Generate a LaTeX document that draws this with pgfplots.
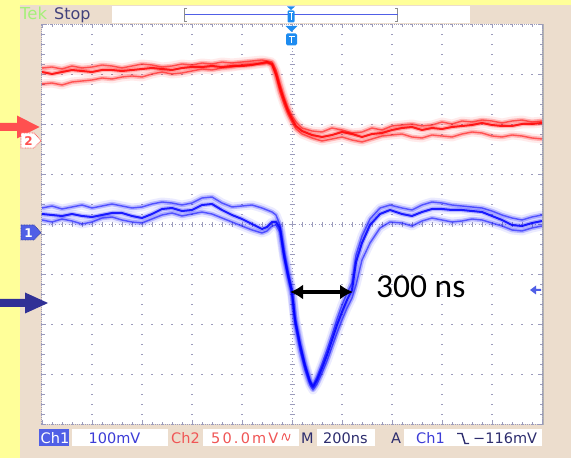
\documentclass[border=0pt]{standalone}
\usepackage{fontspec}
\setmainfont{DejaVu Sans}
\newfontfamily\notefont{Carlito}
\usepackage{pgfplots}
\usepackage{pgfplotstable}
\pgfplotsset{compat=1.18}
\usetikzlibrary{arrows.meta}

\definecolor{scopeyellow}{RGB}{255,255,153}
\definecolor{bezel}{RGB}{236,221,205}
\definecolor{gratcol}{RGB}{155,155,188}
\definecolor{chone}{RGB}{0,0,255}
\definecolor{chtwo}{RGB}{255,0,0}
\definecolor{labblue}{RGB}{60,60,215}
\definecolor{labred}{RGB}{240,85,85}
\definecolor{labnavy}{RGB}{45,45,110}
\definecolor{trigblue}{RGB}{30,140,240}
\definecolor{markblue}{RGB}{80,95,230}
\definecolor{arrowred}{RGB}{255,80,80}
\definecolor{arrownavy}{RGB}{48,48,150}
\definecolor{tekgreen}{RGB}{165,240,120}

% Ch2 acquisitions (time in ns, level in screen divisions)
\pgfplotstableread{
t a b c
-1000 3.05 2.81 3.13
-960 3.01 2.83 3.15
-920 3.05 2.79 3.11
-880 3.09 2.85 3.17
-840 3.07 2.87 3.13
-800 3.05 2.89 3.15
-760 3.09 2.93 3.19
-720 3.09 2.91 3.17
-680 3.07 2.95 3.13
-640 3.09 2.97 3.17
-600 3.11 2.95 3.21
-560 3.13 3.01 3.19
-520 3.11 3.05 3.15
-480 3.09 3.01 3.17
-440 3.13 3.03 3.21
-400 3.15 3.07 3.19
-360 3.15 3.11 3.23
-320 3.17 3.09 3.21
-280 3.15 3.13 3.25
-240 3.17 3.15 3.23
-200 3.17 3.19 3.25
-160 3.19 3.21 3.27
-120 3.23 3.21 3.29
-100 3.25 3.23 3.27
-80 3.21 3.19 3.25
-64 3.01 2.97 3.09
-48 2.73 2.65 2.81
-32 2.49 2.41 2.55
-16 2.27 2.21 2.33
0 2.11 2.05 2.17
16 1.97 1.91 2.05
40 1.87 1.81 1.93
80 1.79 1.73 1.87
120 1.75 1.67 1.85
160 1.79 1.71 1.93
200 1.85 1.75 1.89
240 1.81 1.69 1.83
280 1.75 1.65 1.85
320 1.81 1.71 1.93
360 1.83 1.77 1.89
400 1.89 1.79 1.97
440 1.93 1.81 1.99
480 1.95 1.75 2.01
520 1.89 1.73 1.97
560 1.93 1.79 1.99
600 1.91 1.77 2.05
640 1.95 1.75 2.01
680 1.97 1.81 2.07
720 1.99 1.85 2.05
760 2.03 1.83 2.09
800 1.99 1.77 2.07
840 1.97 1.75 2.03
880 1.97 1.79 2.07
920 2.01 1.77 2.09
960 2.01 1.73 2.05
1000 2.03 1.71 2.07
}\chtwotab

% Ch1 acquisitions (time in ns, level in screen divisions)
\pgfplotstableread{
t a b c
-1000 0.21 0.09 0.33
-960 0.19 0.05 0.37
-920 0.17 0.11 0.31
-880 0.21 0.07 0.35
-840 0.17 0.01 0.39
-800 0.15 0.05 0.33
-760 0.19 0.13 0.37
-720 0.23 0.15 0.41
-680 0.23 0.09 0.37
-640 0.17 0.05 0.33
-600 0.13 0.03 0.35
-560 0.21 0.11 0.41
-520 0.31 0.19 0.45
-480 0.33 0.23 0.43
-440 0.27 0.17 0.39
-400 0.29 0.21 0.43
-360 0.39 0.25 0.53
-320 0.41 0.21 0.55
-280 0.29 0.13 0.43
-240 0.19 0.05 0.35
-200 0.11 -0.03 0.37
-160 0.01 -0.11 0.39
-120 -0.09 -0.17 0.33
-100 -0.05 -0.13 0.29
-80 0.05 -0.03 0.25
-64 0.05 -0.01 0.19
-48 -0.07 -0.15 -0.01
-32 -0.61 -0.67 -0.51
-16 -1.01 -1.07 -0.93
0 -1.35 -1.43 -1.29
12 -1.91 -1.99 -1.83
32 -2.41 -2.51 -2.35
52 -2.83 -2.91 -2.77
72 -3.15 -3.21 -3.11
84 -3.25 -3.31 -3.21
100 -3.11 -3.19 -3.05
120 -2.87 -2.97 -2.79
140 -2.61 -2.73 -2.51
160 -2.31 -2.45 -2.21
180 -2.01 -2.17 -1.89
200 -1.75 -1.91 -1.61
220 -1.51 -1.67 -1.37
240 -1.31 -1.47 -1.17
256 -0.75 -1.21 -0.61
280 -0.37 -0.71 -0.23
312 -0.01 -0.37 0.11
352 0.21 -0.07 0.33
392 0.29 0.05 0.39
440 0.21 0.03 0.33
480 0.17 -0.03 0.29
520 0.25 0.07 0.39
560 0.31 0.13 0.45
600 0.31 0.09 0.43
640 0.29 0.05 0.39
680 0.29 0.07 0.37
720 0.27 0.11 0.35
760 0.25 0.09 0.33
800 0.17 0.03 0.27
840 0.09 -0.03 0.19
880 -0.01 -0.11 0.13
920 -0.03 -0.13 0.09
960 0.03 -0.07 0.15
1000 0.07 -0.03 0.19
}\chonetab

\pgfplotsset{
  halo/.style={line width=9pt, opacity=0.08, line join=round, line cap=round},
  glow/.style={line width=4.5pt, opacity=0.22, line join=round},
  core/.style={line width=2pt, opacity=0.85, line join=round},
  faint/.style={line width=1.4pt, opacity=0.55, line join=round},
}

\begin{document}
\begin{tikzpicture}
% bezel and screen background (pixel frame, y downwards)
\fill[bezel] (0,0) rectangle (571pt,458pt);
\begin{scope}[yshift=458pt, x=1pt, y=-1pt]
  \fill[scopeyellow] (0,0) rectangle (571,5.5);
  \fill[scopeyellow] (0,0) rectangle (20,458);
  \fill[white] (42,24.5) rectangle (542,424.5);
  \draw[black!30, line width=1.5pt] (543,24.5) -- (543,425);
  % centre lines of the graticule
  \draw[gratcol, line width=1pt, dash pattern=on 1pt off 2.333pt] (42,224.5) -- (542,224.5);
  \draw[gratcol, line width=1pt, dash pattern=on 1pt off 2.333pt] (292,24.5) -- (292,424.5);
  \foreach \k in {1,...,49} \draw[gratcol, line width=0.8pt] (42+10*\k,222) -- (42+10*\k,227);
  \foreach \k in {1,...,39} \draw[gratcol, line width=0.8pt] (289.5,24.5+10*\k) -- (294.5,24.5+10*\k);
\end{scope}

\begin{axis}[
  at={(42pt,33.5pt)}, anchor=south west,
  width=500pt, height=400pt, scale only axis,
  xmin=-1000, xmax=1000, ymin=-4, ymax=4,
  xtick={-1000,-800,...,1000}, ytick={-4,-3,...,4},
  minor x tick num=4, minor y tick num=4,
  xticklabels={}, yticklabels={},
  tick align=inside,
  major tick length=4pt, minor tick length=2.5pt,
  tick style={gratcol, line width=0.8pt},
  grid=major,
  major grid style={gratcol, line width=1.2pt, dash pattern=on 1.2pt off 8.8pt, dash phase=0.6pt},
  axis line style={gratcol, line width=1pt, dash pattern=on 1pt off 1pt},
]
% Ch2 (red) persistence
\addplot[chtwo, halo] table[x=t, y=a] {\chtwotab};
\addplot[chtwo, halo] table[x=t, y=b] {\chtwotab};
\addplot[chtwo, halo] table[x=t, y=c] {\chtwotab};
\addplot[chtwo, glow] table[x=t, y=a] {\chtwotab};
\addplot[chtwo, glow] table[x=t, y=b] {\chtwotab};
\addplot[chtwo, glow] table[x=t, y=c] {\chtwotab};
\addplot[chtwo, faint] table[x=t, y=b] {\chtwotab};
\addplot[chtwo, faint] table[x=t, y=c] {\chtwotab};
\addplot[chtwo, core] table[x=t, y=a] {\chtwotab};
% Ch1 (blue) persistence
\addplot[chone, halo] table[x=t, y=a] {\chonetab};
\addplot[chone, halo] table[x=t, y=b] {\chonetab};
\addplot[chone, halo] table[x=t, y=c] {\chonetab};
\addplot[chone, glow] table[x=t, y=a] {\chonetab};
\addplot[chone, glow] table[x=t, y=b] {\chonetab};
\addplot[chone, glow] table[x=t, y=c] {\chonetab};
\addplot[chone, faint] table[x=t, y=b] {\chonetab};
\addplot[chone, faint] table[x=t, y=c] {\chonetab};
\addplot[chone, core] table[x=t, y=a] {\chonetab};
\end{axis}

\begin{scope}[yshift=458pt, x=1pt, y=-1pt]
  % header
  \node[anchor=base west, inner sep=0, text=tekgreen, font=\fontsize{16.5}{16.5}\selectfont] at (20,20) {Tek};
  \node[anchor=base west, inner sep=0, text=labnavy!90!white, font=\fontsize{16}{16}\selectfont] at (54,20) {Stop};
  \fill[white] (112,6) rectangle (470,23);
  \draw[black!45, line width=0.8pt] (187,8) -- (184.5,8) -- (184.5,21) -- (187,21);
  \draw[black!45, line width=0.8pt] (395,8) -- (397.5,8) -- (397.5,21) -- (395,21);
  \draw[markblue, line width=1pt] (184.5,14.5) -- (397.5,14.5);
  \fill[trigblue] (287,6.5) -- (295,6.5) -- (291,10) -- cycle;
  \fill[trigblue, rounded corners=1.2pt] (287.5,10.5) rectangle (294.5,22.5);
  \draw[white, line width=1pt] (291,13) -- (291,20);
  \draw[white, line width=1pt] (289,13) -- (293,13);
  % trigger position on the screen
  \fill[trigblue] (285.5,26) -- (297.5,26) -- (291.5,32) -- cycle;
  \fill[trigblue, rounded corners=1.5pt] (286,33.5) rectangle (297,45.5);
  \draw[white, line width=1.4pt] (288.5,36.5) -- (294.5,36.5);
  \draw[white, line width=1.4pt] (291.5,36.5) -- (291.5,43.5);
  % channel markers
  \fill[arrowred] (0,123) -- (17,123) -- (17,115.5) -- (39.5,127) -- (17,138.5) -- (17,131) -- (0,131) -- cycle;
  \filldraw[fill=white, draw=arrowred, dash pattern=on 0.8pt off 0.8pt, line width=0.8pt]
    (21,133) -- (34,133) -- (41,140.5) -- (34,148) -- (21,148) -- cycle;
  \node[text=arrowred, font=\bfseries\fontsize{12}{12}\selectfont, inner sep=0] at (28.5,140.8) {2};
  \filldraw[fill=markblue, draw=markblue!70!black, dash pattern=on 0.8pt off 0.8pt, line width=0.8pt]
    (21,225) -- (34,225) -- (41,232.5) -- (34,240) -- (21,240) -- cycle;
  \node[text=white, font=\bfseries\fontsize{12}{12}\selectfont, inner sep=0] at (28.5,232.8) {1};
  \fill[arrownavy] (0,299) -- (25,299) -- (25,292.5) -- (48,303) -- (25,313.5) -- (25,307) -- (0,307) -- cycle;
  \fill[markblue] (530,290) -- (536,285.5) -- (536,289) -- (541,289) -- (541,291) -- (536,291) -- (536,294.5) -- cycle;
  % pulse width annotation
  \draw[black, line width=3.2pt, {Latex[length=13pt,width=15pt]}-{Latex[length=13pt,width=15pt]}] (290,292) -- (353,292);
  \node[anchor=base west, inner sep=0, font=\notefont\fontsize{33.5}{33.5}\selectfont] at (376,298) {300 ns};
  % status line
  \fill[markblue] (39,429) rectangle (69,446.5);
  \fill[white] (72,429) rectangle (168,446.5);
  \fill[white] (203,429) rectangle (299,446.5);
  \fill[white] (317,429) rectangle (375,446.5);
  \fill[white] (404,429) rectangle (542,446.5);
  \begin{scope}[every node/.style={anchor=base west, inner sep=0, font=\fontsize{14.5}{14.5}\selectfont}]
    \node[text=white] at (40.5,444) {Ch1};
    \node[text=labblue] at (88.5,444) {100mV};
    \node[text=labred] at (171,444) {Ch2};
    \node[text=labred] at (211,444) {\addfontfeature{LetterSpace=15}50.0mV};
    \node[text=labnavy] at (301,444) {M};
    \node[text=labnavy] at (323,444) {200ns};
    \node[text=labnavy] at (391,444) {A};
    \node[text=labblue] at (416,444) {Ch1};
    \node[text=labnavy] at (473,444) {−116mV};
  \end{scope}
  \draw[labred, line width=0.9pt] (282,440) .. controls (283.5,432) and (285,432) .. (286,437) .. controls (287,442) and (288.5,442) .. (290,434);
  \draw[labnavy, line width=1.4pt] (457,433.5) -- (462,433.5) -- (465,443.5) -- (469,443.5);
\end{scope}
\pgfresetboundingbox
\useasboundingbox (0,0) rectangle (571pt,458pt);
\end{tikzpicture}
\end{document}
